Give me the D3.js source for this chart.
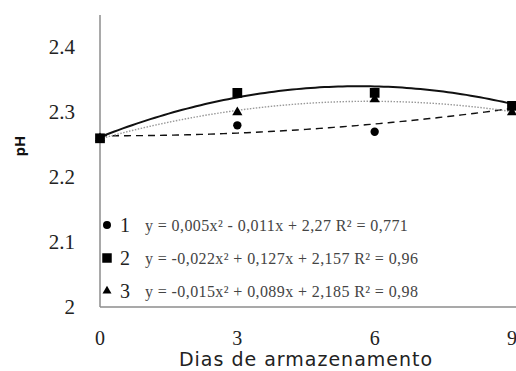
<!DOCTYPE html>
<html>
<head>
<meta charset="utf-8">
<script src="https://cdn.jsdelivr.net/npm/d3@7"></script>
<style>
  body { margin: 0; background: #fff; }
  svg { display: block; }
</style>
</head>
<body>
<svg id="chart" width="516" height="371"></svg>
<script>
// dias de armazenamento
const days = [0, 3, 6, 9]
const yTicks = [2, 2.1, 2.2, 2.3, 2.4]

// pH medido por tratamento
const ph1 = [2.26, 2.28, 2.27, 2.31]
const ph2 = [2.26, 2.33, 2.33, 2.31]
const ph3 = [2.26, 2.30, 2.32, 2.30]

// coeficientes das linhas de tendência (a, b, c) com x = índice 1..4
const fit1 = [0.005, -0.011, 2.27]
const fit2 = [-0.022, 0.127, 2.157]
const fit3 = [-0.015, 0.089, 2.185]

const labels = [
  'y = 0,005x² - 0,011x + 2,27 R² = 0,771',
  'y = -0,022x² + 0,127x + 2,157 R² = 0,96',
  'y = -0,015x² + 0,089x + 2,185 R² = 0,98',
]

const svg = d3.select('#chart')
const x = d3.scaleLinear().domain([0, 9]).range([100, 512])
const y = d3.scaleLinear().domain([2, 2.45]).range([307, 15])

const series = [
  {name: '1', data: ph1, fit: fit1, symbol: d3.symbolCircle, size: 55, dash: '7,5', stroke: '#111', width: 1.4},
  {name: '2', data: ph2, fit: fit2, symbol: d3.symbolSquare, size: 95, dash: null, stroke: '#111', width: 2},
  {name: '3', data: ph3, fit: fit3, symbol: d3.symbolTriangle, size: 45, dash: '1.5,1.5', stroke: '#999', width: 1.4},
]

// eixos
svg.append('line').attr('x1', 100).attr('x2', 100).attr('y1', 15).attr('y2', 307)
  .attr('stroke', '#8c8c8c').attr('stroke-width', 1.5)
svg.append('line').attr('x1', 100).attr('x2', 516).attr('y1', 307).attr('y2', 307)
  .attr('stroke', '#8c8c8c').attr('stroke-width', 1.5)

svg.selectAll('text.ytick').data(yTicks).join('text')
  .attr('class', 'ytick')
  .attr('x', 75).attr('y', (d) => y(d))
  .attr('text-anchor', 'end').attr('dominant-baseline', 'central')
  .attr('font-family', 'Liberation Serif').attr('font-size', 21).attr('fill', '#222')
  .text((d) => (d === 2 ? '2' : d3.format('.1f')(d)))

svg.selectAll('text.xtick').data(days).join('text')
  .attr('class', 'xtick')
  .attr('x', (d) => x(d)).attr('y', 338)
  .attr('text-anchor', 'middle').attr('dominant-baseline', 'central')
  .attr('font-family', 'Liberation Serif').attr('font-size', 20).attr('fill', '#222')
  .text((d) => d)

svg.append('text')
  .attr('x', 306).attr('y', 359)
  .attr('text-anchor', 'middle').attr('dominant-baseline', 'central')
  .attr('font-family', 'DejaVu Sans').attr('font-size', 19).attr('letter-spacing', 1)
  .attr('fill', '#222')
  .text('Dias de armazenamento')

svg.append('text')
  .attr('transform', 'translate(19,146) rotate(-90)')
  .attr('text-anchor', 'middle').attr('dominant-baseline', 'central')
  .attr('font-family', 'Open Sans').attr('font-weight', 'bold').attr('font-size', 15).attr('fill', '#111')
  .text('pH')

// linhas de tendência
const curve = d3.line().x((d) => x(d[0])).y((d) => y(d[1]))
const xs = d3.range(0, 9.01, 0.1)
series.forEach((s) => {
  const [a, b, c] = s.fit
  const pts = xs.map((d) => {
    const t = d / 3 + 1
    return [d, a * t * t + b * t + c]
  })
  svg.append('path').attr('d', curve(pts)).attr('fill', 'none')
    .attr('stroke', s.stroke).attr('stroke-width', s.width)
    .attr('stroke-dasharray', s.dash)
})

// pontos
series.forEach((s) => {
  svg.selectAll(null).data(s.data).join('path')
    .attr('transform', (d, i) => `translate(${x(days[i])},${y(d)})`)
    .attr('d', d3.symbol().type(s.symbol).size(s.size))
    .attr('fill', '#000')
})

// legenda
const legend = svg.selectAll('g.legend').data(series).join('g')
  .attr('class', 'legend')
  .attr('transform', (d, i) => `translate(107,${225 + i * 33})`)
legend.append('path')
  .attr('d', (d, i) => d3.symbol().type(d.symbol).size([50, 90, 35][i])())
  .attr('fill', '#000')
legend.append('text')
  .attr('x', 13).attr('y', 0).attr('dominant-baseline', 'central')
  .attr('font-family', 'Liberation Serif').attr('font-size', 20).attr('fill', '#222')
  .text((d) => d.name)
legend.append('text')
  .attr('x', 38).attr('y', 0).attr('dominant-baseline', 'central')
  .attr('font-family', 'Liberation Serif').attr('font-size', 16).attr('letter-spacing', 0.4)
  .attr('fill', '#444')
  .text((d, i) => labels[i])
</script>
</body>
</html>
